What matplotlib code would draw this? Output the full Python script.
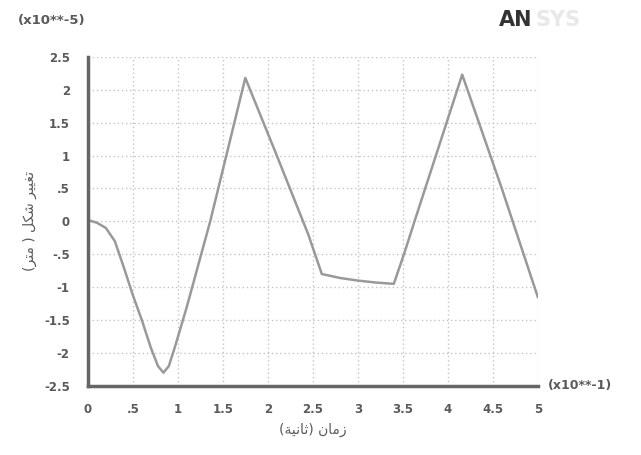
import matplotlib.pyplot as plt
import numpy as np

# time (x10**-1 s) and deformation (x10**-5 m)
time = [0.0, 0.1, 0.2, 0.3, 0.4, 0.5, 0.6, 0.7, 0.78, 0.84, 0.9, 0.97, 1.1, 1.36, 1.75,
        2.1, 2.45, 2.6, 2.8, 3.0, 3.2, 3.4, 3.52, 3.63, 4.16, 4.6, 5.0]
deform = [0.02, -0.02, -0.1, -0.3, -0.7, -1.12, -1.5, -1.92, -2.2, -2.3, -2.2, -1.9, -1.3,
          0.0, 2.18, 1.0, -0.2, -0.8, -0.86, -0.9, -0.93, -0.95, -0.47, 0.0, 2.23, 0.5, -1.15]

x_ticks = [0, 0.5, 1, 1.5, 2, 2.5, 3, 3.5, 4, 4.5, 5]
x_labels = ["0", ".5", "1", "1.5", "2", "2.5", "3", "3.5", "4", "4.5", "5"]
y_ticks = [-2.5, -2, -1.5, -1, -0.5, 0, 0.5, 1, 1.5, 2, 2.5]
y_labels = ["-2.5", "-2", "-1.5", "-1", "-.5", "0", ".5", "1", "1.5", "2", "2.5"]

# arabic labels, pre-shaped (presentation forms, visual order)
x_title = "(\ufe94\ufef4\ufee7\ufe8e\ufe9b) \ufee5\ufe8e\ufee3\ufeaf"  # زمان (ثانية)
y_title = "(\ufeae\ufe98\ufee3 ) \ufede\ufedc\ufeb7 \ufeae\ufef4\ufef4\ufed0\ufe97"  # تغيير شكل ( متر)

ink = "#5a5a5a"

fig = plt.figure(figsize=(6.41, 4.55), dpi=100)
ax = fig.add_axes([0.137, 0.152, 0.702, 0.723])

ax.plot(time, deform, color="#999999", linewidth=1.8)

ax.set_xlim(0, 5)
ax.set_ylim(-2.5, 2.5)
ax.set_xticks(x_ticks)
ax.set_xticklabels(x_labels)
ax.set_yticks(y_ticks)
ax.set_yticklabels(y_labels)
ax.tick_params(length=0, labelsize=8.5, labelcolor=ink)
ax.tick_params(axis="x", pad=12)
ax.tick_params(axis="y", pad=13)
for lbl in ax.get_xticklabels() + ax.get_yticklabels():
    lbl.set_fontweight("bold")

ax.grid(True, linestyle=(0, (1, 2)), color="#c4c4c4", linewidth=1)
for side in ["top", "right"]:
    ax.spines[side].set_visible(False)
for side in ["left", "bottom"]:
    ax.spines[side].set_color("#666666")
    ax.spines[side].set_linewidth(2.5)

ax.set_xlabel(x_title, family="DejaVu Sans", fontsize=10, color=ink, labelpad=5)
ax.set_ylabel(y_title, family="DejaVu Sans", fontsize=10, color=ink, labelpad=5)

fig.text(0.028, 0.955, "(x10**-5)", fontsize=9.5, fontweight="bold", color=ink, va="center")
fig.text(0.855, 0.152, "(x10**-1)", fontsize=9, fontweight="bold", color=ink, va="center")
fig.text(0.778, 0.955, "AN", fontsize=15, fontweight="bold", color="#333333", va="center")
fig.text(0.836, 0.955, "SYS", fontsize=15, fontweight="bold", color="#e8e8e8", va="center")

fig.savefig("out.png", dpi=100)
